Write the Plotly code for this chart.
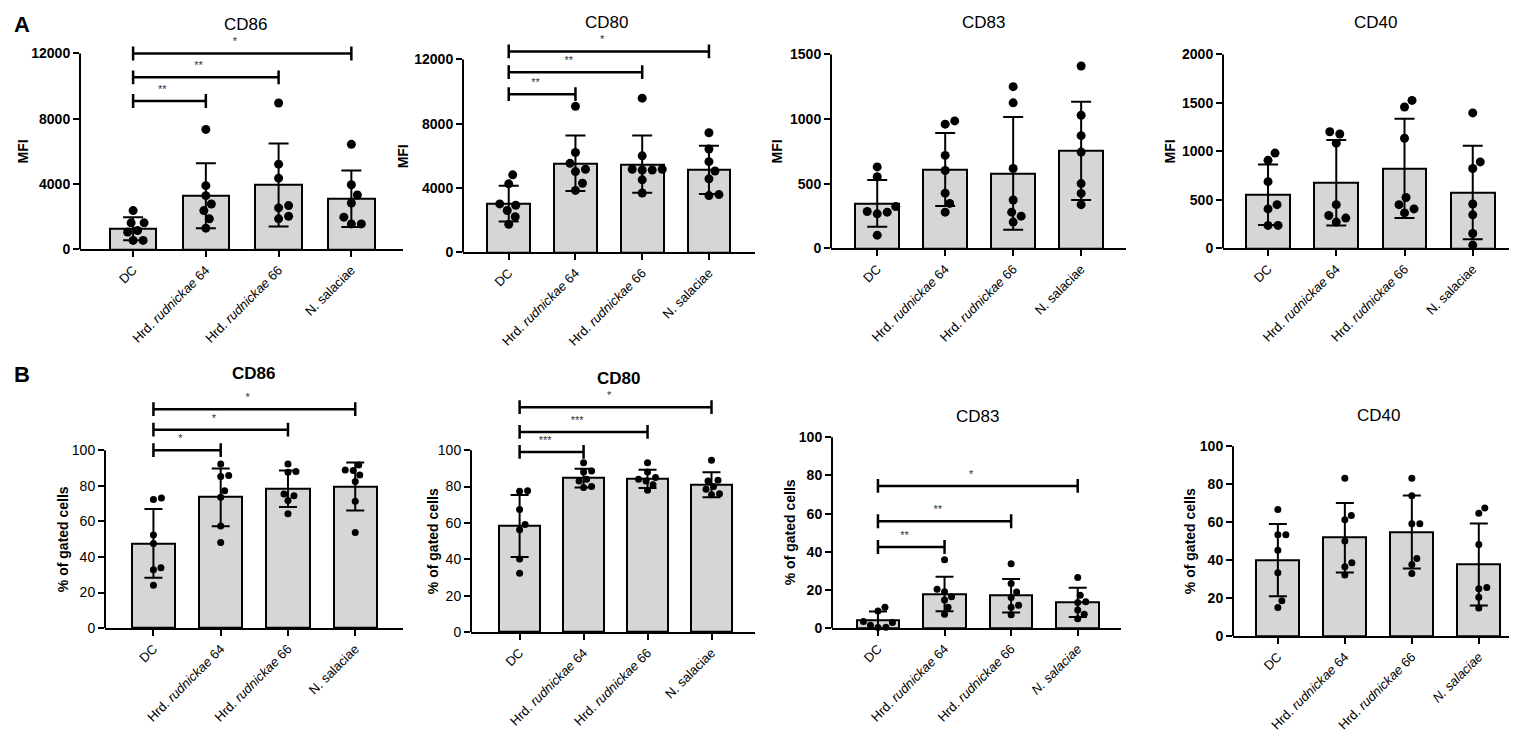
import plotly.graph_objects as go

W, H = 1517, 734

groups = ['DC', 'Hrd. rudnickae 64', 'Hrd. rudnickae 66', 'N. salaciae']
labels_plain = ['DC', 'Hrd. <i>rudnickae</i> 64', 'Hrd. <i>rudnickae</i> 66', 'N. salaciae']
labels_ital = ['DC', 'Hrd. <i>rudnickae</i> 64', 'Hrd. <i>rudnickae</i> 66', '<i>N. salaciae</i>']

# ---- A: MFI ----
a_cd86_mean = [1260, 3290, 3940, 3100]
a_cd86_sd = [700, 1990, 2540, 1730]
a_cd86_pts = [[1056, 1624, 2375, 1624, 1157, 548, 548],
              [7350, 3900, 3290, 2780, 2375, 1870, 1300],
              [8970, 5220, 4360, 2680, 2540, 2030, 1870],
              [6435, 3960, 3330, 2840, 1970, 1560, 1560]]
a_cd86_sig = [(0, 1, 9090, '**'), (0, 2, 10540, '**'), (0, 3, 12000, '*')]

a_cd80_mean = [3030, 5540, 5480, 5125]
a_cd80_sd = [1110, 1720, 1780, 1500]
a_cd80_pts = [[4820, 4260, 2930, 3010, 2600, 2210, 1740],
              [9080, 6210, 5170, 5535, 5020, 4300, 3850],
              [9590, 6000, 5170, 5120, 5120, 5170, 4510, 3690],
              [7440, 6420, 5640, 5060, 4570, 3590, 3530]]
a_cd80_sig = [(0, 1, 9840, '**'), (0, 2, 11210, '**'), (0, 3, 12500, '*')]

a_cd83_mean = [348, 610, 580, 755]
a_cd83_sd = [180, 283, 436, 380]
a_cd83_pts = [[630, 554, 323, 280, 267, 285, 102],
              [961, 986, 719, 602, 427, 348, 280],
              [1251, 1126, 618, 374, 280, 249, 203],
              [1411, 1030, 872, 745, 501, 425, 338]]

a_cd40_mean = [553, 678, 824, 576]
a_cd40_sd = [311, 441, 512, 483]
a_cd40_pts = [[983, 908, 688, 451, 407, 237, 237],
              [1203, 1180, 1085, 451, 339, 312, 271],
              [1526, 1458, 1136, 525, 451, 407, 366],
              [1397, 892, 824, 458, 346, 153, 34]]

# ---- B: % of gated cells ----
b_cd86_mean = [47.6, 73.5, 78.3, 79.6]
b_cd86_sd = [19.3, 16.2, 10.2, 13.5]
b_cd86_pts = [[72.2, 73.1, 52.4, 47.6, 33.9, 32.8, 24.1],
              [92.2, 85.7, 85.2, 77.2, 73.5, 57.4, 48.1],
              [92.2, 87.6, 88.0, 74.4, 75.4, 71.7, 64.3],
              [91.7, 88.5, 88.9, 86.0, 82.4, 71.3, 53.7]]
b_cd86_sig = [(0, 1, 100, '*'), (0, 2, 111.5, '*'), (0, 3, 123, '*')]

b_cd80_mean = [58.3, 84.6, 84.2, 81.0]
b_cd80_sd = [17.0, 5.2, 5.0, 6.9]
b_cd80_pts = [[77.4, 77.7, 67.4, 56.2, 59.2, 40.2, 32.4],
              [93.0, 88.5, 88.0, 84.0, 83.0, 80.0, 79.5],
              [93.0, 88.0, 85.0, 84.0, 83.0, 81.0, 78.0],
              [94.5, 83.5, 83.0, 80.0, 78.5, 76.0, 75.5]]
b_cd80_sig = [(0, 1, 99, '***'), (0, 2, 110, '***'), (0, 3, 123.6, '*')]

b_cd83_mean = [4.0, 17.9, 17.0, 13.5]
b_cd83_sd = [4.7, 9.0, 8.8, 7.7]
b_cd83_pts = [[11.0, 9.0, 3.5, 3.0, 1.5, 0.5, 0.3],
              [35.9, 16.5, 20.4, 19.1, 14.7, 10.9, 7.3],
              [33.8, 23.4, 19.0, 16.0, 12.0, 11.0, 7.0],
              [26.5, 17.3, 13.9, 13.5, 9.5, 7.3, 4.9]]
b_cd83_sig = [(0, 1, 42.5, '**'), (0, 2, 56, '**'), (0, 3, 74.5, '*')]

b_cd40_mean = [40.0, 51.8, 54.8, 37.7]
b_cd40_sd = [19.0, 18.3, 19.2, 21.6]
b_cd40_pts = [[66.6, 53.4, 53.4, 45.2, 33.4, 18.6, 15.1],
              [83.1, 63.5, 61.2, 50.1, 38.6, 36.5, 32.2],
              [83.1, 73.9, 59.1, 59.1, 40.9, 37.7, 33.0],
              [67.5, 64.7, 48.2, 24.9, 25.6, 20.5, 14.8]]

mfi_ticks_big = [0, 4000, 8000, 12000]
mfi_ticks_cd83 = [0, 500, 1000, 1500]
mfi_ticks_cd40 = [0, 500, 1000, 1500, 2000]
pct_ticks = [0, 20, 40, 60, 80, 100]

FONT = 'Liberation Sans, Arial, sans-serif'

# panel placement in pixels: x left/right of axis, y px of 0, y px of top tick, top of plotting box
panels = [
    dict(mean=a_cd86_mean, sd=a_cd86_sd, pts=a_cd86_pts, sig=a_cd86_sig, ticks=mfi_ticks_big,
         labels=labels_plain, xl=72, xr=395, y0=244, ytk=46, ytop=25, xr0=-0.73, xr1=3.71,
         title='CD86', txy=(237, 17), tbold=False, ylab='MFI', lxy=(15, 145), tickbold=True, msize=9),
    dict(mean=a_cd80_mean, sd=a_cd80_sd, pts=a_cd80_pts, sig=a_cd80_sig, ticks=mfi_ticks_big,
         labels=labels_plain, xl=455, xr=747, y0=247, ytk=52, ytop=25, xr0=-0.685, xr1=3.69,
         title='CD80', txy=(598, 15), tbold=False, ylab='MFI', lxy=(395, 150), tickbold=True, msize=9),
    dict(mean=a_cd83_mean, sd=a_cd83_sd, pts=a_cd83_pts, sig=[], ticks=mfi_ticks_cd83,
         labels=labels_plain, xl=823, xr=1118, y0=243, ytk=47, ytop=25, xr0=-0.68, xr1=3.66,
         title='CD83', txy=(975, 15), tbold=False, ylab='MFI', lxy=(769, 145), tickbold=True, msize=9),
    dict(mean=a_cd40_mean, sd=a_cd40_sd, pts=a_cd40_pts, sig=[], ticks=mfi_ticks_cd40,
         labels=labels_plain, xl=1215, xr=1505, y0=243, ytk=47, ytop=25, xr0=-0.66, xr1=3.59,
         title='CD40', txy=(1367, 15), tbold=False, ylab='MFI', lxy=(1162, 145), tickbold=True, msize=9),
    dict(mean=b_cd86_mean, sd=b_cd86_sd, pts=b_cd86_pts, sig=b_cd86_sig, ticks=pct_ticks,
         labels=labels_plain, xl=97, xr=395, y0=627, ytk=447, ytop=380, xr0=-0.72, xr1=3.71,
         title='CD86', txy=(245, 370), tbold=True, ylab='% of gated cells', lxy=(55, 537), tickbold=False, msize=7),
    dict(mean=b_cd80_mean, sd=b_cd80_sd, pts=b_cd80_pts, sig=b_cd80_sig, ticks=pct_ticks,
         labels=labels_plain, xl=463, xr=747, y0=631, ytk=447, ytop=380, xr0=-0.76, xr1=3.68,
         title='CD80', txy=(610, 375), tbold=True, ylab='% of gated cells', lxy=(425, 539), tickbold=False, msize=7),
    dict(mean=b_cd83_mean, sd=b_cd83_sd, pts=b_cd83_pts, sig=b_cd83_sig, ticks=pct_ticks,
         labels=labels_ital, xl=824, xr=1113, y0=627, ytk=434, ytop=425, xr0=-0.69, xr1=3.65,
         title='CD83', txy=(969, 413), tbold=False, ylab='% of gated cells', lxy=(782, 530), tickbold=True, msize=7),
    dict(mean=b_cd40_mean, sd=b_cd40_sd, pts=b_cd40_pts, sig=[], ticks=pct_ticks,
         labels=labels_ital, xl=1225, xr=1513, y0=635, ytk=443, ytop=430, xr0=-0.67, xr1=3.63,
         title='CD40', txy=(1370, 412), tbold=False, ylab='% of gated cells', lxy=(1182, 539), tickbold=True, msize=7),
]


def swarm(vals, ppu_y, ppu_x, size):
    # simple beeswarm: keep dots as close to the centre line as possible without overlap
    order = sorted(range(len(vals)), key=lambda i: vals[i])
    placed = []
    offs = [0.0] * len(vals)
    for i in order:
        yp = vals[i] * ppu_y
        k = 0
        while True:
            cands = [0.0] if k == 0 else [k * 0.5, -k * 0.5]
            hit = None
            for c in cands:
                if all((c - px) ** 2 + (yp - py) ** 2 >= size ** 2 for py, px in placed):
                    hit = c
                    break
            if hit is not None:
                break
            k += 1
        placed.append((yp, hit))
        offs[i] = hit / ppu_x
    return offs


def ann(text, x, y, size, bold=False, angle=0):
    return dict(text=text, x=x / W, y=1 - y / H, xref='paper', yref='paper', showarrow=False,
                xanchor='center', yanchor='middle', textangle=angle,
                font=dict(size=size, family=FONT, color='black', weight='bold' if bold else 'normal'))


fig = go.Figure()
layout = dict(width=W, height=H, margin=dict(l=0, r=0, t=0, b=0),
              plot_bgcolor='white', paper_bgcolor='white', showlegend=False,
              font=dict(family=FONT, color='black'), bargap=0)
shapes = []
annotations = []

for n, p in enumerate(panels, start=1):
    sfx = '' if n == 1 else str(n)
    xa, ya = 'x' + sfx, 'y' + sfx
    top_val = p['ticks'][-1]
    ymax = top_val * (p['y0'] - p['ytop']) / (p['y0'] - p['ytk'])
    ppu_y = (p['y0'] - p['ytk']) / top_val
    ppu_x = (p['xr'] - p['xl']) / (p['xr1'] - p['xr0'])

    fig.add_trace(go.Bar(x=list(range(4)), y=p['mean'], width=0.64,
                         marker=dict(color='#d6d6d6', line=dict(color='black', width=2)),
                         error_y=dict(type='data', array=p['sd'], color='black', thickness=2,
                                      width=10 if p['msize'] == 9 else 9),
                         xaxis=xa, yaxis=ya, hoverinfo='skip'))

    xs, ys = [], []
    for g, vals in enumerate(p['pts']):
        offs = swarm(vals, ppu_y, ppu_x, p['msize'] * 1.1)
        xs += [g + o for o in offs]
        ys += vals
    fig.add_trace(go.Scatter(x=xs, y=ys, mode='markers', cliponaxis=False,
                             marker=dict(color='black', size=p['msize']),
                             xaxis=xa, yaxis=ya))

    # significance brackets
    tick_h = 7 / ppu_y
    for g0, g1, lvl, star in p['sig']:
        bx = [g0, g0, None, g0, g1, None, g1, g1]
        by = [lvl - tick_h, lvl + tick_h, None, lvl, lvl, None, lvl - tick_h, lvl + tick_h]
        fig.add_trace(go.Scatter(x=bx, y=by, mode='lines', line=dict(color='black', width=2.5),
                                 xaxis=xa, yaxis=ya, hoverinfo='skip'))
        fig.add_trace(go.Scatter(x=[(g0 + g1) / 2 - 0.1], y=[lvl + 11 / ppu_y], mode='text',
                                 text=[star], textfont=dict(size=11, color='#333333'),
                                 cliponaxis=False, xaxis=xa, yaxis=ya, hoverinfo='skip'))

    if p['tickbold']:
        ytext = ['<b>%d</b>' % t for t in p['ticks']]
    else:
        ytext = ['%d' % t for t in p['ticks']]
    layout['xaxis' + sfx] = dict(domain=[p['xl'] / W, p['xr'] / W], range=[p['xr0'], p['xr1']],
                                 anchor=ya, showgrid=False, zeroline=False, showline=True,
                                 linecolor='black', linewidth=2, ticks='outside', ticklen=6,
                                 tickwidth=2, tickcolor='black', tickvals=list(range(4)),
                                 ticktext=p['labels'], tickangle=-45,
                                 tickfont=dict(size=13, family=FONT, color='black'))
    layout['yaxis' + sfx] = dict(domain=[1 - p['y0'] / H, 1 - p['ytop'] / H], range=[0, ymax],
                                 anchor=xa, showgrid=False, zeroline=False, showline=False,
                                 ticks='outside', ticklen=6, tickwidth=2, tickcolor='black',
                                 tickvals=p['ticks'], ticktext=ytext,
                                 tickfont=dict(size=14, family=FONT, color='black'))
    shapes.append(dict(type='line', xref=xa + ' domain', yref=ya, x0=0, x1=0, y0=0, y1=top_val,
                       line=dict(color='black', width=2)))

    annotations.append(ann(p['title'], p['txy'][0], p['txy'][1], 17, p['tbold']))
    annotations.append(ann('<b>%s</b>' % p['ylab'], p['lxy'][0], p['lxy'][1], 14, True, -90))

annotations.append(ann('<b>A</b>', 14, 17, 22, True))
annotations.append(ann('<b>B</b>', 14, 371, 22, True))

layout['shapes'] = shapes
layout['annotations'] = annotations
fig.update_layout(**layout)
fig.write_html('out.html')
